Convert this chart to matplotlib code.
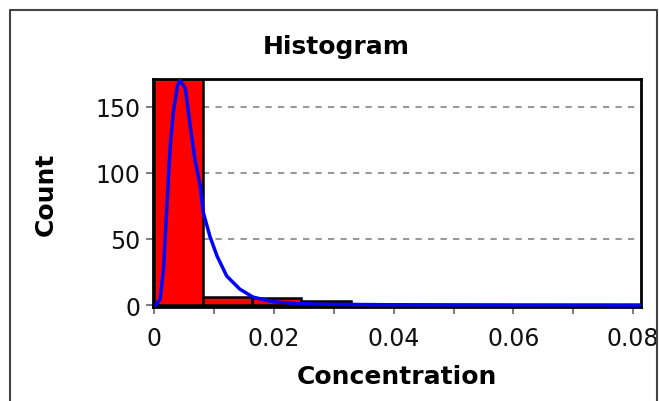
import matplotlib
matplotlib.use("Agg")
import matplotlib.pyplot as plt
from matplotlib.lines import Line2D
from matplotlib.ticker import MultipleLocator

# Histogram data
bin_edges = [0.0, 0.0082, 0.0164, 0.0246, 0.0328]
bin_counts = [180, 6, 5, 3]

# Fitted density curve
curve_x = [0.0003, 0.0010, 0.00155, 0.00267, 0.0032, 0.0039, 0.0043, 0.0052, 0.0060,
           0.0068, 0.0077, 0.0082, 0.0093, 0.0105, 0.0121, 0.0143, 0.0165, 0.0198,
           0.0243, 0.030, 0.040, 0.060, 0.081]
curve_y = [0, 4.5, 27, 120, 146, 166, 170, 164, 136,
           110, 90, 70, 52, 37, 22, 12, 6, 2.5,
           1.0, 0.5, 0.2, 0.05, 0.0]

title = "Histogram"
xlabel = "Concentration"
ylabel = "Count"
x_ticks = [0, 0.02, 0.04, 0.06, 0.08]
x_ticklabels = ["0", "0.02", "0.04", "0.06", "0.08"]
y_ticks = [0, 50, 100, 150]

W, H = 659, 402
fig = plt.figure(figsize=(W / 100, H / 100), dpi=100)
ax = fig.add_axes([153 / W, 1 - 308 / H, (641 - 153) / W, (308 - 80) / H])

widths = [bin_edges[i + 1] - bin_edges[i] for i in range(len(bin_counts))]
ax.bar(bin_edges[:-1], bin_counts, width=widths, align="edge",
       color="#ff0000", edgecolor="black", linewidth=1.8, zorder=2)
ax.plot(curve_x, curve_y, color="#0000ff", linewidth=2.5, zorder=3)

ax.set_xlim(-0.0002, 0.0813)
ax.set_ylim(-1.5, 171)

for yv in y_ticks[1:]:
    ax.axhline(yv, color="#999999", linestyle=(0, (3, 3)), linewidth=1.5, zorder=1)

ax.set_xticks(x_ticks)
ax.set_xticklabels(x_ticklabels)
ax.xaxis.set_minor_locator(MultipleLocator(0.01))
ax.set_yticks(y_ticks)
ax.tick_params(axis="both", which="both", direction="out", length=5, width=1.2,
               color="#666666", labelsize=17, labelcolor="#111111")
ax.tick_params(axis="x", which="both", pad=9)
ax.tick_params(axis="y", which="both", pad=4)

for s in ax.spines.values():
    s.set_color("black")
    s.set_linewidth(2)

ax.set_xlabel(xlabel, fontsize=18, fontweight="bold", labelpad=10)
ax.set_ylabel(ylabel, fontsize=18, fontweight="bold", labelpad=27)
fig.text(336 / W, 1 - 47 / H, title, fontsize=18, fontweight="bold",
         ha="center", va="center")

# outer frame (left, top, right)
fig.add_artist(Line2D([9.5 / W, 9.5 / W, 656.5 / W, 656.5 / W],
                      [0, 1 - 11 / H, 1 - 11 / H, 0],
                      transform=fig.transFigure, color="#444444", linewidth=1.5))

fig.savefig("out.png", dpi=100)
